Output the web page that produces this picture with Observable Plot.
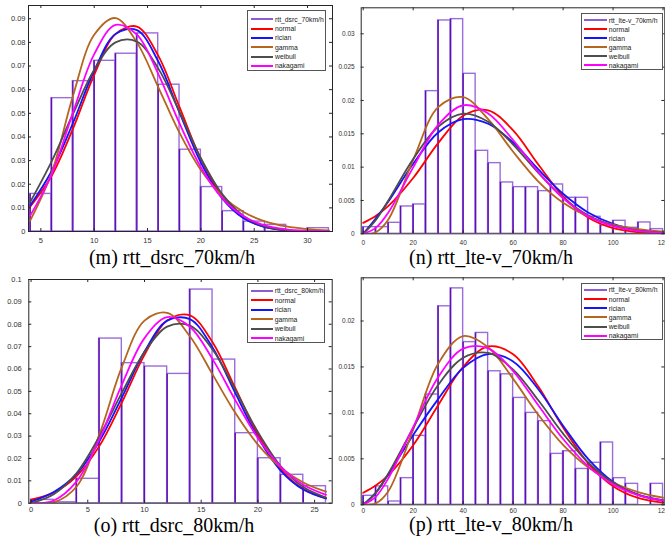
<!DOCTYPE html>
<html><head><meta charset="utf-8">
<script src="https://cdn.jsdelivr.net/npm/d3@7"></script>
<script src="https://cdn.jsdelivr.net/npm/@observablehq/plot@0.6"></script>
<style>
html,body{margin:0;padding:0;background:#fff;}
#root{position:relative;width:665px;height:546px;overflow:hidden;background:#fff;}
.panel{position:absolute;}
.title{position:absolute;font-family:"Liberation Serif","Times New Roman",serif;font-size:20px;line-height:12px;white-space:nowrap;transform:translateX(-50%);color:#000;}
.legend{position:absolute;border:1px solid #555;background:#fff;box-sizing:border-box;font-family:"Liberation Sans",Arial,sans-serif;font-size:6.8px;color:#222;}
.legend .row{position:absolute;height:8px;display:flex;align-items:center;white-space:nowrap;}
.legend .sw{height:0;border-top:2px solid;}
</style></head><body><div id="root"></div>
<script>
// ---------- data ----------
const fitNames = ["normal", "rician", "gamma", "weibull", "nakagami"];

// (m) rtt_dsrc_70km/h
const mHistName = "rtt_dsrc_70km/h";
const mTitle = "(m) rtt_dsrc_70km/h";
const mEdges = [4, 6, 8, 10, 12, 14, 16, 18, 20, 22, 24, 26, 28, 30, 32];
const mDensity = [0.0159, 0.0564, 0.0636, 0.0722, 0.0752, 0.0838, 0.0621, 0.0346, 0.0188, 0.0086, 0.0042, 0.0028, 0, 0.0014];
const mCurveX = [4, 6, 8, 10, 12, 14, 16, 18, 20, 22, 24, 26, 28, 30, 32];
const mNormal = [0.01046, 0.02345, 0.0434, 0.0663, 0.0835, 0.0867, 0.0744, 0.0526, 0.0307, 0.0148, 0.00587, 0.00193, 0.00052, 0.00012, 0.00002];
const mRician = [0.0110, 0.0255, 0.0458, 0.0680, 0.0836, 0.0852, 0.0720, 0.0503, 0.0291, 0.0140, 0.0056, 0.0018, 0.0005, 0.0001, 0.00002];
const mGamma = [0.00458, 0.0247, 0.0572, 0.0832, 0.0903, 0.0800, 0.0611, 0.0417, 0.0260, 0.0151, 0.00826, 0.0043, 0.00215, 0.00103, 0.00048];
const mWeibull = [0.0125, 0.0296, 0.0496, 0.0684, 0.0800, 0.0803, 0.0690, 0.0505, 0.0310, 0.0158, 0.00659, 0.0022, 0.0006, 0.0001, 0.00002];
const mNakagami = [0.0067, 0.0240, 0.0502, 0.0750, 0.0874, 0.0833, 0.0667, 0.0457, 0.0272, 0.0141, 0.00647, 0.0026, 0.00094, 0.0003, 0.0001];
const mXTicks = [5, 10, 15, 20, 25, 30];
const mXLabels = ["5", "10", "15", "20", "25", "30"];
const mYTicks = [0, 0.01, 0.02, 0.03, 0.04, 0.05, 0.06, 0.07, 0.08, 0.09];
const mYLabels = ["0", "0.01", "0.02", "0.03", "0.04", "0.05", "0.06", "0.07", "0.08", "0.09"];
const mXDomain = [3.84, 32.34];
const mYDomain = [0, 0.0956];

// (n) rtt_lte-v_70km/h
const nHistName = "rtt_lte-v_70km/h";
const nTitle = "(n) rtt_lte-v_70km/h";
const nEdges = [0, 5, 10, 15, 20, 25, 30, 35, 40, 45, 50, 55, 60, 65, 70, 75, 80, 85, 90, 95, 100, 105, 110, 115, 120];
const nDensity = [0.001, 0.001, 0.00165, 0.0041, 0.0044, 0.0214, 0.032, 0.0322, 0.024, 0.01245, 0.0106, 0.0077, 0.007, 0.007, 0.0064, 0.0074, 0.0054, 0.0054, 0.00255, 0.00125, 0.00195, 0.0009, 0.00170, 0.0007];
const nCurveX = [0, 5, 10, 20, 30, 40, 50, 60, 70, 80, 90, 100, 110, 120];
const nNormal = [0.00164, 0.00268, 0.00414, 0.00837, 0.0136, 0.01772, 0.01852, 0.01552, 0.01044, 0.00563, 0.00244, 0.00085, 0.00024, 0.00005];
const nRician = [0, 0.0023, 0.0048, 0.0105, 0.0152, 0.0172, 0.0165, 0.0137, 0.0097, 0.0060, 0.0032, 0.0015, 0.0006, 0.0002];
const nGamma = [0, 0.00024, 0.00211, 0.01109, 0.01899, 0.0205, 0.01719, 0.0123, 0.00788, 0.00466, 0.00259, 0.00137, 0.0007, 0.00034];
const nWeibull = [0, 0.00205, 0.00496, 0.01121, 0.01606, 0.01802, 0.01682, 0.01338, 0.00917, 0.00543, 0.00279, 0.00124, 0.00048, 0.00016];
const nNakagami = [0, 0.00089, 0.00316, 0.00996, 0.01634, 0.01928, 0.01806, 0.01406, 0.00931, 0.00533, 0.00265, 0.00116, 0.00045, 0.00015];
const nXTicks = [0, 20, 40, 60, 80, 100, 120];
const nXLabels = ["0", "20", "40", "60", "80", "100", "120"];
const nYTicks = [0, 0.005, 0.01, 0.015, 0.02, 0.025, 0.03];
const nYLabels = ["0", "0.005", "0.01", "0.015", "0.02", "0.025", "0.03"];
const nXDomain = [-0.8, 120.7];
const nYDomain = [0, 0.0339];

// (o) rtt_dsrc_80km/h
const oHistName = "rtt_dsrc_80km/h";
const oTitle = "(o) rtt_dsrc_80km/h";
const oEdges = [0, 2, 4, 6, 8, 10, 12, 14, 16, 18, 20, 22, 24, 26];
const oDensity = [0.0015, 0.0004, 0.0109, 0.0736, 0.0626, 0.0611, 0.0578, 0.0955, 0.0642, 0.0313, 0.0201, 0.0127, 0.0076];
const oCurveX = [0, 2, 4, 6, 8, 10, 12, 14, 16, 18, 20, 22, 24, 26];
const oNormal = [0.00155, 0.00472, 0.01198, 0.0254, 0.04495, 0.0663, 0.0817, 0.084, 0.072, 0.0515, 0.0307, 0.0153, 0.00636, 0.0022];
const oRician = [0.0007, 0.0050, 0.0130, 0.0275, 0.0472, 0.0678, 0.0816, 0.0823, 0.0696, 0.0493, 0.0293, 0.0146, 0.0061, 0.0021];
const oGamma = [0, 0.00033, 0.00734, 0.0304, 0.0608, 0.0816, 0.0851, 0.0746, 0.0576, 0.0404, 0.0262, 0.016, 0.00925, 0.00513];
const oWeibull = [0, 0.0040, 0.01339, 0.02966, 0.04929, 0.06756, 0.07894, 0.07938, 0.06871, 0.0508, 0.0318, 0.01663, 0.0072, 0.00253];
const oNakagami = [0, 0.0012, 0.00963, 0.0284, 0.0529, 0.0738, 0.0832, 0.0789, 0.0644, 0.0461, 0.0291, 0.0164, 0.00826, 0.00375];
const oXTicks = [0, 5, 10, 15, 20, 25];
const oXLabels = ["0", "5", "10", "15", "20", "25"];
const oYTicks = [0, 0.01, 0.02, 0.03, 0.04, 0.05, 0.06, 0.07, 0.08, 0.09, 0.1];
const oYLabels = ["0", "0.01", "0.02", "0.03", "0.04", "0.05", "0.06", "0.07", "0.08", "0.09", "0.1"];
const oXDomain = [-0.2, 26.55];
const oYDomain = [0, 0.1];

// (p) rtt_lte-v_80km/h
const pHistName = "rtt_lte-v_80km/h";
const pTitle = "(p) rtt_lte-v_80km/h";
const pEdges = [0, 5, 10, 15, 20, 25, 30, 35, 40, 45, 50, 55, 60, 65, 70, 75, 80, 85, 90, 95, 100, 105, 110, 115, 120];
const pDensity = [0.00098, 0.002, 0.00036, 0.0029, 0.0075, 0.012, 0.0216, 0.02355, 0.0177, 0.0187, 0.01453, 0.0142, 0.01163, 0.0100, 0.0091, 0.00554, 0.00583, 0.0039, 0.00457, 0.00678, 0.0029, 0.00228, 0, 0.00228];
const pCurveX = [0, 5, 10, 20, 30, 40, 50, 60, 70, 80, 90, 100, 110, 120];
const pNormal = [0.00131, 0.0021, 0.00321, 0.00648, 0.01084, 0.01502, 0.01723, 0.01638, 0.01289, 0.0084, 0.00454, 0.00203, 0.00075, 0.00023];
const pRician = [0, 0.0013, 0.0033, 0.0076, 0.0115, 0.0149, 0.0164, 0.0156, 0.0126, 0.0086, 0.0050, 0.0025, 0.0011, 0.0005];
const pGamma = [0, 0.00016, 0.00145, 0.00818, 0.01535, 0.01835, 0.01714, 0.0137, 0.00983, 0.00652, 0.00407, 0.00242, 0.00139, 0.00077];
const pWeibull = [0, 0.00129, 0.00337, 0.00837, 0.01304, 0.016, 0.01652, 0.0147, 0.0114, 0.00774, 0.00461, 0.0024, 0.00109, 0.00044];
const pNakagami = [0, 0.00087, 0.00285, 0.00846, 0.01389, 0.01699, 0.01702, 0.01455, 0.01085, 0.00716, 0.00421, 0.00222, 0.00106, 0.00045];
const pXTicks = [0, 20, 40, 60, 80, 100, 120];
const pXLabels = ["0", "20", "40", "60", "80", "100", "120"];
const pYTicks = [0, 0.005, 0.01, 0.015, 0.02];
const pYLabels = ["0", "0.005", "0.01", "0.015", "0.02"];
const pXDomain = [-0.8, 120.7];
const pYDomain = [0, 0.0247];

// ---------- styles ----------
const style = {
  barLight: "#9a6ddc", barDark: "#5a10b4", legendHist: "#8a5cd6",
  fitColors: ["#ff0000", "#1414ff", "#b5651d", "#4d4d4d", "#ff00ff"],
  axis: "#262626", curveWidth: 1.8
};
const layout = {
  m: {left: 0, top: 0, width: 340, height: 250, mL: 28, mR: 8, mT: 5, mB: 19, xPad: 6, yPad: 3, font: 7.5,
      legend: {left: 247, top: 10, w: 79, h: 61, first: 4.3, step: 9.33, swL: 3, swW: 22, gap: 2},
      title: {cx: 172, top: 250.5}},
  n: {left: 335, top: 0, width: 330, height: 250, mL: 25.7, mR: 0.7, mT: 7.3, mB: 16.7, xPad: 6.5, yPad: 6.5, font: 6.5,
      legend: {left: 580.7, top: 12.7, w: 82.3, h: 57.3, first: 2.6, step: 9, swL: 2, swW: 23, gap: 2},
      title: {cx: 491, top: 250.5}},
  o: {left: 0, top: 270, width: 340, height: 250, mL: 28.3, mR: 8.3, mT: 9, mB: 17.3, xPad: 3.5, yPad: 7, font: 7.5,
      legend: {left: 246.7, top: 282.7, w: 78.6, h: 60, first: 3.3, step: 9.45, swL: 3, swW: 22, gap: 2},
      title: {cx: 174, top: 518.5}},
  p: {left: 335, top: 270, width: 330, height: 250, mL: 25.7, mR: 0.7, mT: 7.3, mB: 15.7, xPad: 3.5, yPad: 6.5, font: 6.5,
      legend: {left: 580.7, top: 282.7, w: 82.6, h: 57.3, first: 2.3, step: 9.15, swL: 2, swW: 23, gap: 2},
      title: {cx: 491, top: 517.5}}
};

const panels = [
  {key: "m", histName: mHistName, title: mTitle, edges: mEdges, density: mDensity, cx: mCurveX,
   fits: [mNormal, mRician, mGamma, mWeibull, mNakagami], xTicks: mXTicks, xLabels: mXLabels, yTicks: mYTicks, yLabels: mYLabels, xDomain: mXDomain, yDomain: mYDomain},
  {key: "n", histName: nHistName, title: nTitle, edges: nEdges, density: nDensity, cx: nCurveX,
   fits: [nNormal, nRician, nGamma, nWeibull, nNakagami], xTicks: nXTicks, xLabels: nXLabels, yTicks: nYTicks, yLabels: nYLabels, xDomain: nXDomain, yDomain: nYDomain},
  {key: "o", histName: oHistName, title: oTitle, edges: oEdges, density: oDensity, cx: oCurveX,
   fits: [oNormal, oRician, oGamma, oWeibull, oNakagami], xTicks: oXTicks, xLabels: oXLabels, yTicks: oYTicks, yLabels: oYLabels, xDomain: oXDomain, yDomain: oYDomain},
  {key: "p", histName: pHistName, title: pTitle, edges: pEdges, density: pDensity, cx: pCurveX,
   fits: [pNormal, pRician, pGamma, pWeibull, pNakagami], xTicks: pXTicks, xLabels: pXLabels, yTicks: pYTicks, yLabels: pYLabels, xDomain: pXDomain, yDomain: pYDomain}
];

const root = document.getElementById("root");

for (const P of panels) {
  const L = layout[P.key];
  const W = L.width - L.mL - L.mR;
  const H = L.height - L.mT - L.mB;
  const bins = P.density.map((d, i) => ({x1: P.edges[i], x2: P.edges[i + 1], y: d}));
  const xLab = new Map(P.xTicks.map((t, i) => [t, P.xLabels[i]]));
  const yLab = new Map(P.yTicks.map((t, i) => [t, P.yLabels[i]]));
  const fitMarks = P.fits.map((vals, j) =>
    Plot.line(vals.map((v, i) => ({x: P.cx[i], y: v})), {
      x: "x", y: "y", stroke: style.fitColors[j], strokeWidth: style.curveWidth,
      curve: "catmull-rom", clip: true
    }));
  const chart = Plot.plot({
    width: L.width, height: L.height,
    marginLeft: L.mL, marginRight: L.mR, marginTop: L.mT, marginBottom: L.mB,
    x: {domain: P.xDomain, label: null},
    y: {domain: P.yDomain, label: null},
    style: {background: "white", fontFamily: "'Liberation Sans', Arial, sans-serif", fontSize: L.font + "px", color: style.axis},
    marks: [
      Plot.rectY(bins, {x1: "x1", x2: "x2", y: "y", fill: "none", stroke: style.barLight, strokeWidth: 1.4, clip: true}),
      Plot.ruleX(bins, {x: "x1", y1: 0, y2: "y", stroke: style.barDark, strokeWidth: 1.4, clip: true}),
      ...fitMarks,
      Plot.frame({stroke: style.axis, strokeWidth: 1}),
      Plot.ruleX(P.xTicks, {x: d => d, insetTop: H - 3, stroke: style.axis}),
      Plot.ruleX(P.xTicks, {x: d => d, insetBottom: H - 3, stroke: style.axis}),
      Plot.ruleY(P.yTicks, {y: d => d, insetRight: W - 3, stroke: style.axis}),
      Plot.ruleY(P.yTicks, {y: d => d, insetLeft: W - 3, stroke: style.axis}),
      Plot.axisX({ticks: P.xTicks, tickSize: 0, tickPadding: L.xPad, tickFormat: d => xLab.get(d), fill: "#333", label: null}),
      Plot.axisY({ticks: P.yTicks, tickSize: 0, tickPadding: L.yPad, tickFormat: d => yLab.get(d), fill: "#333", label: null})
    ]
  });
  chart.classList.add("panel");
  chart.style.left = L.left + "px";
  chart.style.top = L.top + "px";
  root.appendChild(chart);

  // legend
  const lg = L.legend;
  const box = document.createElement("div");
  box.className = "legend";
  Object.assign(box.style, {left: lg.left + "px", top: lg.top + "px", width: lg.w + "px", height: lg.h + "px"});
  const entries = [P.histName, ...fitNames];
  const colors = [style.legendHist, ...style.fitColors];
  entries.forEach((name, i) => {
    const row = document.createElement("div");
    row.className = "row";
    row.style.left = lg.swL + "px";
    row.style.top = (lg.first + i * lg.step) + "px";
    const sw = document.createElement("span");
    sw.className = "sw";
    sw.style.width = lg.swW + "px";
    sw.style.borderTopColor = colors[i];
    sw.style.marginRight = lg.gap + "px";
    const tx = document.createElement("span");
    tx.textContent = name;
    row.appendChild(sw); row.appendChild(tx);
    box.appendChild(row);
  });
  root.appendChild(box);

  // title
  const t = document.createElement("div");
  t.className = "title";
  t.textContent = P.title;
  t.style.left = L.title.cx + "px";
  t.style.top = L.title.top + "px";
  root.appendChild(t);
}
</script></body></html>
